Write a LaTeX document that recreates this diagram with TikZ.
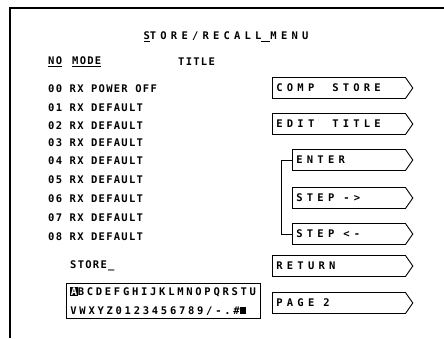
\documentclass[tikz,border=0pt]{standalone}
\usepackage{fontspec}
\usepackage{tikz}
\usetikzlibrary{shapes.symbols}
\newfontfamily\scrfont[LetterSpace=12]{DejaVu Sans Mono}
\newfontfamily\scrwide[LetterSpace=40]{DejaVu Sans Mono}
\newfontfamily\scrchars[LetterSpace=26]{DejaVu Sans Mono}
\newcommand\invA{{\setlength{\fboxsep}{0.5pt}\colorbox{black}{\textcolor{white}{A}}}}
\newcommand\delblk{\rule{6pt}{7pt}}
\newcommand\gap{\hspace*{9pt}}

\begin{document}
\begin{tikzpicture}[x=1pt,y=-1pt,
  scr/.style={font=\scrfont\bfseries\fontsize{10.5}{12}\selectfont, inner sep=0pt, anchor=west},
  key/.style={draw, line width=0.9pt, signal, signal to=east, signal pointer angle=110,
    minimum height=21pt, inner xsep=4pt, align=left, anchor=west,
    font=\scrwide\bfseries\fontsize{10.5}{12}\selectfont}]
\useasboundingbox (0,0) rectangle (444,338);
\draw[line width=1.3pt] (10,338) -- (10,8) -- (444,8);

\node[scr, anchor=center, font=\scrwide\bfseries\fontsize{10.5}{12}\selectfont] (title) at (226,37) {\underline{S}TORE/RECALL\underline{\gap}MENU};
\node[scr] (hno) at (48,62) {\underline{NO}};
\node[scr] (hmode) at (72,62) {\underline{MODE}};
\node[scr] (htitle) at (178,62) {TITLE};

\foreach \n/\y/\t in {00/89/POWER OFF, 01/108/DEFAULT, 02/126/DEFAULT, 03/143/DEFAULT,
  04/161/DEFAULT, 05/180/DEFAULT, 06/199/DEFAULT, 07/218/DEFAULT, 08/237/DEFAULT}
	\node[scr] (row\n) at (48,\y) {\n\ RX \t};

\node[scr] (store) at (70,266) {STORE\_};
\node[draw, line width=0.9pt, anchor=west, align=left, inner xsep=4pt, inner ysep=3pt,
  font=\scrchars\bfseries\fontsize{10.5}{19}\selectfont] (chars) at (66,301)
  {\invA BCDEFGHIJKLMNOPQRSTU\\VWXYZ0123456789/-.\#\delblk};

\node[key, text width=125pt] (kcomp) at (272,88) {COMP\gap\gap STORE};
\node[key, text width=125pt] (kedit) at (272,124) {EDIT\gap\gap TITLE};
\node[key, text width=105pt] (kenter) at (292,160) {ENTER};
\node[key, text width=105pt] (kstepr) at (292,198) {STEP\gap ->};
\node[key, text width=105pt] (kstepl) at (292,234) {STEP\gap <-};
\node[key, text width=125pt] (kreturn) at (272,266) {RETURN};
\node[key, text width=125pt] (kpage) at (272,303) {PAGE\gap 2};

\coordinate (brk) at (281,0);
\draw[line width=0.9pt] (kenter.west) -- (kenter.west -| brk) |- (kstepl.west);
\end{tikzpicture}
\end{document}
